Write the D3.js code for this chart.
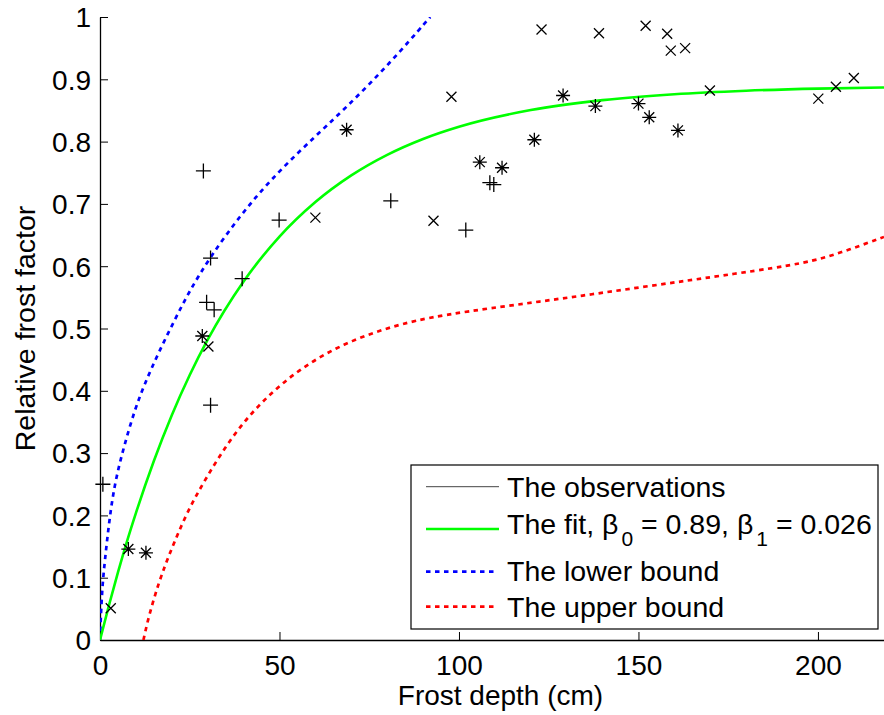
<!DOCTYPE html>
<html><head><meta charset="utf-8">
<script src="https://cdn.jsdelivr.net/npm/d3@7"></script>
<style>
body{margin:0;background:#fff}
text{font-family:"Liberation Sans",Arial,Helvetica,sans-serif;fill:#000}
</style>
</head><body>
<svg id="c" width="884" height="715"></svg>
<script>
// ---- data ----
const xTicks = [0, 50, 100, 150, 200];
const xTickLabels = ["0", "50", "100", "150", "200"];
const yTicks = [0, 0.1, 0.2, 0.3, 0.4, 0.5, 0.6, 0.7, 0.8, 0.9, 1];
const yTickLabels = ["0", "0.1", "0.2", "0.3", "0.4", "0.5", "0.6", "0.7", "0.8", "0.9", "1"];

// observations, three marker types
const obsPlus = [[0.8,0.25],[28.8,0.753],[29.7,0.542],[31.8,0.530],[30.8,0.613],[39.6,0.580],[30.8,0.377],[49.9,0.674],[81.0,0.705],[101.9,0.658],[108.6,0.734],[109.7,0.731]];
const obsCross = [[3.0,0.051],[30.2,0.471],[60.0,0.678],[92.9,0.673],[97.9,0.872],[123.0,0.980],[139.0,0.974],[152.0,0.986],[158.0,0.973],[159.0,0.946],[163.0,0.950],[169.9,0.882],[200.1,0.869],[205.0,0.888],[210.0,0.902]];
const obsStar = [[7.9,0.146],[12.8,0.140],[28.5,0.488],[68.7,0.819],[105.8,0.767],[112.0,0.758],[121.0,0.803],[129.0,0.874],[138.0,0.857],[150.0,0.861],[153.0,0.839],[161.0,0.818]];

// curves
const fitX = [0, 2.5, 5, 7.5, 10, 15, 20, 25, 30, 40, 50, 60, 70, 80, 90, 100, 120, 140, 160, 180, 200, 218.4];
const fitY = [0, 0.0557, 0.1085, 0.158, 0.2037, 0.2874, 0.3609, 0.4254, 0.482, 0.5754, 0.6475, 0.703, 0.7458, 0.7788, 0.8043, 0.8239, 0.8507, 0.8666, 0.8761, 0.8817, 0.8851, 0.8869];
const lowX = [0, 0.1, 0.3, 0.7, 1.4, 2.3, 3.3, 4.7, 6.8, 9.7, 12.5, 16.2, 20.9, 25.1, 30.6, 39, 47.4, 57.6, 68.7, 80.8, 92];
const lowY = [0, 0.02, 0.045, 0.09, 0.13, 0.177, 0.222, 0.266, 0.313, 0.37, 0.412, 0.46, 0.515, 0.562, 0.614, 0.681, 0.738, 0.796, 0.855, 0.926, 1.0];
const upX = [12.1, 13.3, 14.8, 16.3, 17.9, 19.5, 24.1, 29.7, 37.1, 45.5, 55.7, 67.8, 80.8, 94.7, 122.6, 150.4, 178.3, 196.8, 206.1, 218.4];
const upY = [0, 0.031, 0.062, 0.09, 0.116, 0.14, 0.204, 0.262, 0.33, 0.386, 0.436, 0.476, 0.503, 0.522, 0.543, 0.566, 0.589, 0.605, 0.621, 0.647];

const legendLabels = ["The observations", "The fit", "The lower bound", "The upper bound"];

// ---- drawing ----
const svg = d3.select("#c");
const x = d3.scaleLinear().domain([0, 218.4]).range([100, 884]);
const y = d3.scaleLinear().domain([0, 1]).range([640, 17]);

svg.append("defs").append("clipPath").attr("id","clip")
  .append("rect").attr("x",100).attr("y",17).attr("width",784).attr("height",623);

const xAxis = svg.append("g").attr("transform","translate(0,640)")
  .call(d3.axisBottom(x).tickValues(xTicks).tickFormat((d,i)=>xTickLabels[i]).tickSize(-8).tickSizeOuter(0));
xAxis.select(".domain").attr("stroke","#000").attr("stroke-width",1.3);
xAxis.selectAll(".tick line").attr("stroke","#000").attr("stroke-width",1);
xAxis.selectAll(".tick text").attr("y",35).attr("dy",null).attr("font-size",28)
  .style("font-family","'Liberation Sans',Arial,sans-serif");

const yAxis = svg.append("g").attr("transform","translate(100,0)")
  .call(d3.axisLeft(y).tickValues(yTicks).tickFormat((d,i)=>yTickLabels[i]).tickSize(-8).tickSizeOuter(0));
yAxis.select(".domain").attr("stroke","#000").attr("stroke-width",1.3);
yAxis.selectAll(".tick line").attr("stroke","#000").attr("stroke-width",1);
yAxis.selectAll(".tick text").attr("x",-9).attr("dy","0.35em").attr("font-size",28)
  .style("font-family","'Liberation Sans',Arial,sans-serif");

svg.append("text").attr("x",500.5).attr("y",705).attr("text-anchor","middle")
  .attr("font-size",28).text("Frost depth (cm)");
svg.append("text").attr("transform","translate(34.5,328.5) rotate(-90)").attr("text-anchor","middle")
  .attr("font-size",28.5).text("Relative frost factor");

const plot = svg.append("g").attr("clip-path","url(#clip)");
const line = d3.line().x(d=>x(d[0])).y(d=>y(d[1])).curve(d3.curveMonotoneX);
const sline = d3.line().x(d=>x(d[0])).y(d=>y(d[1])).curve(d3.curveBasis);

plot.append("path").datum(d3.zip(lowX, lowY)).attr("d", sline)
  .attr("fill","none").attr("stroke","#0000ff").attr("stroke-width",2.7).attr("stroke-dasharray","4.5,4.5");
plot.append("path").datum(d3.zip(upX, upY)).attr("d", sline)
  .attr("fill","none").attr("stroke","#ff0000").attr("stroke-width",2.7).attr("stroke-dasharray","4.5,4.5");
plot.append("path").datum(d3.zip(fitX, fitY)).attr("d", line)
  .attr("fill","none").attr("stroke","#00ff00").attr("stroke-width",2.6);

const mk = svg.append("g").attr("fill","none").attr("stroke","#000").attr("stroke-width",1.3);
mk.selectAll(".p").data(obsPlus).join("path")
  .attr("transform",d=>`translate(${x(d[0])},${y(d[1])})`)
  .attr("d","M-7.5,0H7.5M0,-7.5V7.5");
mk.selectAll(".x").data(obsCross).join("path")
  .attr("transform",d=>`translate(${x(d[0])},${y(d[1])})`)
  .attr("d","M-5,-5L5,5M-5,5L5,-5");
mk.selectAll(".s").data(obsStar).join("path")
  .attr("transform",d=>`translate(${x(d[0])},${y(d[1])})`)
  .attr("d","M-7,0H7M0,-7V7M-5,-5L5,5M-5,5L5,-5");

// legend
const lg = svg.append("g");
lg.append("rect").attr("x",411).attr("y",465).attr("width",467).attr("height",164)
  .attr("fill","#fff").attr("stroke","#000").attr("stroke-width",1.2);
const ly = [486.7, 529, 571.7, 606.7];
const lb = [496.5, 534, 581, 617];
lg.append("line").attr("x1",426).attr("x2",499).attr("y1",ly[0]).attr("y2",ly[0]).attr("stroke","#444").attr("stroke-width",1);
lg.append("line").attr("x1",426).attr("x2",499).attr("y1",ly[1]).attr("y2",ly[1]).attr("stroke","#00ff00").attr("stroke-width",2.6);
lg.append("line").attr("x1",426).attr("x2",495).attr("y1",ly[2]).attr("y2",ly[2]).attr("stroke","#0000ff").attr("stroke-width",2.7).attr("stroke-dasharray","4.5,4.5");
lg.append("line").attr("x1",426).attr("x2",495).attr("y1",ly[3]).attr("y2",ly[3]).attr("stroke","#ff0000").attr("stroke-width",2.7).attr("stroke-dasharray","4.5,4.5");
lg.append("text").attr("x",507).attr("y",lb[0]).attr("font-size",28.5).text(legendLabels[0]);
const ft = lg.append("text").attr("x",507).attr("y",lb[1]).attr("font-size",28.5);
ft.append("tspan").text(legendLabels[1] + ", \u03b2");
ft.append("tspan").attr("dx",3).attr("dy",12).attr("font-size",21).text("0");
ft.append("tspan").attr("dy",-12).text(" = 0.89, \u03b2");
ft.append("tspan").attr("dx",3).attr("dy",12).attr("font-size",21).text("1");
ft.append("tspan").attr("dy",-12).text(" = 0.026");
lg.append("text").attr("x",507).attr("y",lb[2]).attr("font-size",28.5).text(legendLabels[2]);
lg.append("text").attr("x",507).attr("y",lb[3]).attr("font-size",28.5).text(legendLabels[3]);
</script>
</body></html>
